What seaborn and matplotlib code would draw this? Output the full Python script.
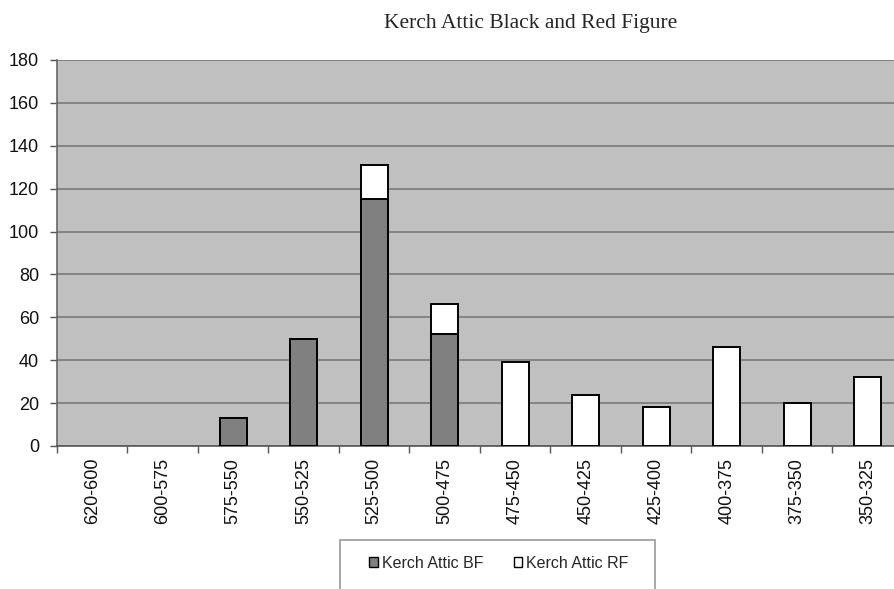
import numpy as np
import pandas as pd
import matplotlib.pyplot as plt
import seaborn as sns

# data
periods = ["620-600", "600-575", "575-550", "550-525", "525-500", "500-475",
           "475-450", "450-425", "425-400", "400-375", "375-350", "350-325"]
black_figure = [0, 0, 13, 50, 115, 52, 0, 0, 0, 0, 0, 0]
red_figure = [0, 0, 0, 0, 16, 14, 39, 24, 18, 46, 20, 32]

df = pd.DataFrame({"period": periods, "BF": black_figure, "RF": red_figure})
df["total"] = df["BF"] + df["RF"]

sns.set_theme(style="white")
plt.rcParams["font.family"] = ["Liberation Sans", "DejaVu Sans"]

fig = plt.figure(figsize=(8.95, 5.89), dpi=100)
W, H = 895, 589
ax = fig.add_axes([57 / W, 1 - 446 / H, 846 / W, 386 / H])
ax.set_facecolor("#c0c0c0")

# stacked: draw total in white, then BF over it
sns.barplot(data=df, x="period", y="total", color="white", saturation=1,
            width=0.39, edgecolor="black", linewidth=1.4, ax=ax, zorder=3)
sns.barplot(data=df, x="period", y="BF", color="#808080", saturation=1,
            width=0.39, edgecolor="black", linewidth=1.4, ax=ax, zorder=4)

# hide zero-height bars
for p in ax.patches:
    if p.get_height() == 0:
        p.set_visible(False)

ax.set_ylim(0, 180)
ax.set_xlim(-0.5, 11.5)
ax.set_yticks(np.arange(0, 181, 20))
ax.yaxis.grid(True, color="#7a7a7a", linewidth=1.2, zorder=0)
ax.set_axisbelow(True)

ax.set_xlabel("")
ax.set_ylabel("")
ax.set_xticks(range(len(periods)))
ax.set_xticklabels(periods, rotation=90, fontsize=13, color="#111111")
ax.set_xticks(np.arange(-0.5, 12, 1), minor=True)
ax.tick_params(axis="x", which="major", length=0, pad=8.5)
ax.tick_params(axis="x", which="minor", length=5, color="#555555", width=1, bottom=True)
ax.tick_params(axis="y", length=5, color="#555555", width=1, left=True,
               labelsize=13, labelcolor="#111111", pad=8)

for side in ["top", "right"]:
    ax.spines[side].set_visible(False)
ax.spines["left"].set_color("#666666")
ax.spines["bottom"].set_color("#555555")
ax.spines["left"].set_linewidth(1.2)
ax.spines["bottom"].set_linewidth(1.2)

fig.text(531 / W, 1 - 28 / H, "Kerch Attic Black and Red Figure",
         ha="center", va="baseline", fontsize=15.5, family="Liberation Serif")

# legend frame (runs off the bottom edge, as in the source)
fig.patches.append(plt.Rectangle((340 / W, -0.02), 315 / W, 1 - 540 / H + 0.02,
                                 transform=fig.transFigure, facecolor="white",
                                 edgecolor="#999999", linewidth=1.2))
handles = [plt.Rectangle((0, 0), 1, 1, facecolor="#808080", edgecolor="black", linewidth=1),
           plt.Rectangle((0, 0), 1, 1, facecolor="white", edgecolor="black", linewidth=1)]
leg = fig.legend(handles, ["Kerch Attic BF", "Kerch Attic RF"], ncol=2,
                 loc="center left", bbox_to_anchor=(369 / W, 1 - 563 / H),
                 frameon=False, fontsize=11.5,
                 handlelength=0.55, handleheight=0.55, handletextpad=0.25,
                 columnspacing=1.9, borderpad=0, borderaxespad=0)

fig.savefig("out.png", dpi=100)
